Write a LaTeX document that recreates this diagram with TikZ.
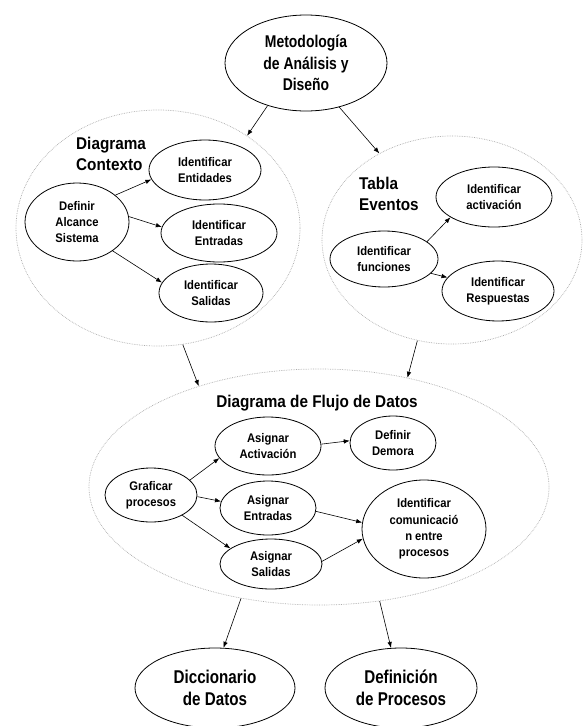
\documentclass[tikz,border=0pt]{standalone}
\usepackage{fontspec}
\setmainfont{Liberation Sans}
\newfontfamily\fa{Liberation Sans}[FakeStretch=0.9]
\newfontfamily\fb{Liberation Sans}[FakeStretch=0.82]
\usetikzlibrary{shapes.geometric,arrows.meta}
\tikzset{
 ell/.style={ellipse, draw, line width=0.8pt, inner sep=0pt, align=center,
   font=\fa\bfseries\fontsize{12.5}{16.2}\selectfont},
 bigell/.style={ellipse, draw, line width=0.8pt, inner sep=0pt, align=center,
   font=\fb\bfseries\fontsize{17}{21.7}\selectfont},
 botell/.style={ellipse, draw, line width=0.8pt, inner sep=0pt, align=center,
   font=\fb\bfseries\fontsize{18.5}{21.7}\selectfont},
 grp/.style={ellipse, draw=gray!65, densely dotted, line width=0.7pt, inner sep=0pt},
 ttl/.style={inner sep=0pt, align=left, font=\fa\bfseries\fontsize{17}{20.5}\selectfont},
 arr/.style={-{Latex[length=6pt,width=4.5pt]}, line width=0.6pt},
}
\begin{document}
\begin{tikzpicture}[x=1pt,y=-1pt]
\useasboundingbox (0,0) rectangle (583,726);
% top
\node[bigell, minimum width=162pt, minimum height=96pt] (meto) at (306,63) {Metodología\\de Análisis y\\Diseño};
% Diagrama Contexto group
\node[grp, minimum width=284pt, minimum height=236pt] (ctx) at (158,228) {};
\node[ttl, anchor=north west] (ctxt) at (76,137) {Diagrama\\Contexto};
\node[ell, minimum width=112pt, minimum height=60pt] (ent) at (205,170) {Identificar\\Entidades};
\node[ell, minimum width=104pt, minimum height=78pt] (alc) at (77,222) {Definir\\Alcance\\Sistema};
\node[ell, minimum width=116pt, minimum height=58pt] (entr) at (219,233) {Identificar\\Entradas};
\node[ell, minimum width=104pt, minimum height=58pt] (sal) at (211,293) {Identificar\\Salidas};
% Tabla Eventos group
\node[grp, minimum width=260pt, minimum height=208pt] (tab) at (452,240) {};
\node[ttl, anchor=north west] (tabt) at (359,177) {Tabla\\Eventos};
\node[ell, minimum width=116pt, minimum height=60pt] (act) at (494,197) {Identificar\\activación};
\node[ell, minimum width=108pt, minimum height=56pt] (fun) at (384,259) {Identificar\\funciones};
\node[ell, minimum width=112pt, minimum height=60pt] (resp) at (498,291) {Identificar\\Respuestas};
% DFD group
\node[grp, minimum width=460pt, minimum height=236pt] (dfd) at (319,487) {};
\node[ttl, anchor=base] (dfdt) at (317,407) {Diagrama de Flujo de Datos};
\node[ell, minimum width=106pt, minimum height=58pt] (aact) at (268,446) {Asignar\\Activación};
\node[ell, minimum width=86pt, minimum height=54pt] (dem) at (393,443) {Definir\\Demora};
\node[ell, minimum width=92pt, minimum height=54pt] (graf) at (151,495) {Graficar\\procesos};
\node[ell, minimum width=96pt, minimum height=54pt] (aent) at (268,508) {Asignar\\Entradas};
\node[ell, minimum width=102pt, minimum height=50pt] (asal) at (271,564) {Asignar\\Salidas};
\node[ell, minimum width=124pt, minimum height=98pt] (com) at (424,529) {Identificar\\comunicació\\n entre\\procesos};
% bottom
\node[botell, minimum width=160pt, minimum height=80pt] (dic) at (215,688) {Diccionario\\de Datos};
\node[botell, minimum width=152pt, minimum height=80pt] (def) at (401,688) {Definición\\de Procesos};
% arrows
\draw[arr] (meto.228) -- (ctx.46);
\draw[arr] (meto.307) -- (tab.130);
\draw[arr] (alc.35) -- (ent.190);
\draw[arr] (alc.6) -- (entr.174);
\draw[arr] (alc.321) -- (sal.168);
\draw[arr] (fun.22) -- (act.205);
\draw[arr] (fun.343) -- (resp.165);
\draw[arr] (ctx.282) -- (dfd.140);
\draw[arr] (tab.251) -- (dfd.51);
\draw[arr] (graf.21) -- (aact.194);
\draw[arr] (graf.358) -- (aent.172);
\draw[arr] (graf.327) -- (asal.159);
\draw[arr] (aact.2) -- (dem.177);
\draw[arr] (aent.356) -- (com.174);
\draw[arr] (asal.3) -- (com.189);
\draw[arr] (dfd.235) -- (dic.78);
\draw[arr] (dfd.298) -- (def.104);
\end{tikzpicture}
\end{document}
